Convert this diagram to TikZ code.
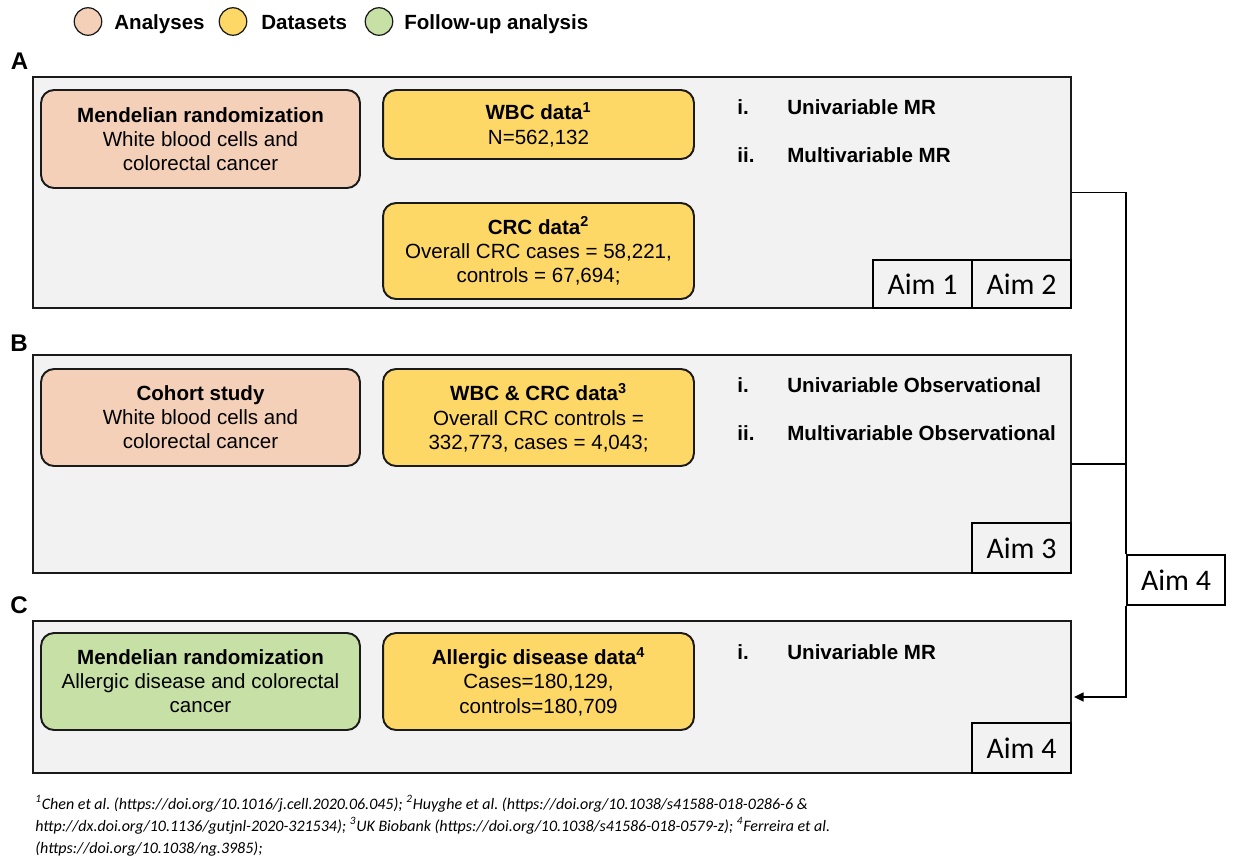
\documentclass[tikz,border=0pt]{standalone}
\usepackage{fontspec}
\setmainfont{Liberation Sans}
\newfontfamily\aimfont{Carlito}
\usetikzlibrary{arrows.meta}
\definecolor{panelgray}{HTML}{F2F2F2}
\definecolor{analysis}{HTML}{F5D0B9}
\definecolor{dataset}{HTML}{FDD867}
\definecolor{followup}{HTML}{C6E0A5}
\definecolor{edge}{HTML}{1A1A1A}
\newcommand{\boxfont}{\fontsize{11.7}{13.7}\selectfont}
\frenchspacing
\begin{document}
\begin{tikzpicture}[x=0.02cm,y=-0.02cm,
  panel/.style={draw=edge, line width=1.4pt, fill=panelgray, minimum width=20.76cm, inner sep=0pt},
  card/.style={rounded corners=0.26cm, draw=edge, line width=1.1pt, align=center, font=\boxfont, inner sep=0pt},
  anacard/.style={card, minimum width=6.38cm},
  datacard/.style={card, fill=dataset, minimum width=6.22cm},
  aim/.style={draw=black, line width=0.6pt, minimum width=1.98cm, minimum height=1.0cm, inner sep=0pt, font=\aimfont\fontsize{17}{20}\selectfont},
  item/.style={anchor=base west, font=\boxfont\bfseries, inner sep=0pt},
  letter/.style={font=\fontsize{13.7}{16}\selectfont\bfseries, inner sep=0pt},
  legdot/.style={circle, draw=edge, line width=0.7pt, minimum size=0.55cm, inner sep=0pt},
  legtext/.style={anchor=base west, font=\boxfont\bfseries, inner sep=0pt},
  note/.style={anchor=base west, font=\aimfont\itshape\fontsize{9.1}{11}\selectfont, inner sep=0pt},
  link/.style={draw=black, line width=1.1pt}
]
\path[use as bounding box, fill=white] (0,0) rectangle (1233,863);

% legend
\node[legdot, fill=analysis] (dotA) at (88,21.5) {};
\node[legtext] (legA) at (114,29) {Analyses};
\node[legdot, fill=dataset] (dotD) at (233,21.5) {};
\node[legtext] (legD) at (261,29) {Datasets};
\node[legdot, fill=followup] (dotF) at (379,21.5) {};
\node[legtext] (legF) at (404,29) {Follow-up analysis};

% panel letters
\node[letter] (labA) at (19.5,61.5) {A};
\node[letter] (labB) at (19,343) {B};
\node[letter] (labC) at (19,605) {C};

% panels
\node[panel, minimum height=4.62cm] (pA) at (552,192.5) {};
\node[panel, minimum height=4.36cm] (pB) at (552,464) {};
\node[panel, minimum height=3.04cm] (pC) at (552,697) {};

% panel A
\node[anacard, fill=analysis, minimum height=1.96cm] (a1) at (200.5,139)
  {{\bfseries Mendelian randomization}\\White blood cells and\\colorectal cancer};
\node[datacard, minimum height=1.38cm] (a2) at (538.5,124.5)
  {{\bfseries WBC data\textsuperscript{1}}\\N=562,132};
\node[datacard, minimum height=1.92cm] (a3) at (538.5,251)
  {{\bfseries CRC data\textsuperscript{2}}\\Overall CRC cases = 58,221,\\controls = 67,694;};
\node[item] (a4) at (737,114.5) {i.};
\node[item] (a5) at (787,114.5) {Univariable MR};
\node[item] (a6) at (737,162.5) {ii.};
\node[item] (a7) at (787,162.5) {Multivariable MR};
\node[aim, minimum height=0.96cm] (aim1) at (922.5,284) {Aim 1};
\node[aim, minimum height=0.96cm] (aim2) at (1021.5,284) {Aim 2};

% panel B
\node[anacard, fill=analysis, minimum height=1.94cm] (b1) at (200.5,417.5)
  {{\bfseries Cohort study}\\White blood cells and\\colorectal cancer};
\node[datacard, minimum height=1.94cm] (b2) at (538.5,417.5)
  {{\bfseries WBC \& CRC data\textsuperscript{3}}\\Overall CRC controls =\\332,773, cases = 4,043;};
\node[item] (b4) at (737,392.5) {i.};
\node[item] (b5) at (787,392.5) {Univariable Observational};
\node[item] (b6) at (737,440.5) {ii.};
\node[item] (b7) at (787,440.5) {Multivariable Observational};
\node[aim] (aim3) at (1021.5,548) {Aim 3};

% panel C
\node[anacard, fill=followup, minimum height=1.94cm] (c1) at (200.5,681.5)
  {{\bfseries Mendelian randomization}\\Allergic disease and colorectal\\cancer};
\node[datacard, minimum height=1.94cm] (c2) at (538.5,681.5)
  {{\bfseries Allergic disease data\textsuperscript{4}}\\Cases=180,129,\\controls=180,709};
\node[item] (c4) at (737,659.5) {i.};
\node[item] (c5) at (787,659.5) {Univariable MR};
\node[aim] (aim4c) at (1021.5,748) {Aim 4};

% follow-up aim and its connectors
\node[aim, fill=white, line width=0.8pt, minimum width=1.96cm] (aim4x) at (1176,580) {Aim 4};
\draw[link] (pA.east) -| (aim4x.north west);
\draw[link] (pB.east) -- (pB.east -| aim4x.west);
\draw[link, -{Triangle[length=5.5pt, width=5pt]}] (aim4x.south west) |- ([xshift=1pt]pC.east);

% references
\node[note] (n1) at (35,809) {\textsuperscript{1}Chen et al. (https://doi.org/10.1016/j.cell.2020.06.045); \textsuperscript{2}Huyghe et al. (https://doi.org/10.1038/s41588-018-0286-6 \&};
\node[note] (n2) at (35,831) {http://dx.doi.org/10.1136/gutjnl-2020-321534); \textsuperscript{3}UK Biobank (https://doi.org/10.1038/s41586-018-0579-z); \textsuperscript{4}Ferreira et al.};
\node[note] (n3) at (35,853) {(https://doi.org/10.1038/ng.3985);};
\end{tikzpicture}
\end{document}
